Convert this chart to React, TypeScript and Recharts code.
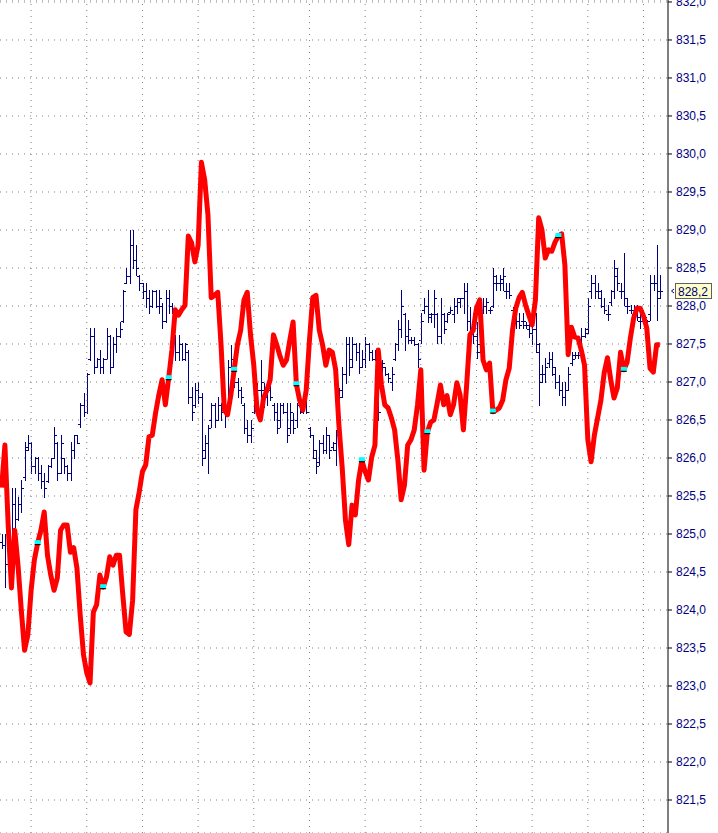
import React from "react";
import { ComposedChart, Bar, Line, XAxis, YAxis, CartesianGrid, ReferenceLine } from "recharts";

// OHLC bars (navy), one per period
const opens = [
  824.9, 824.85, 824.6, 824.8, 825.4, 825.2, 825.4, 825.75, 826.15, 826.2,
  825.9, 826.0, 825.8, 825.7, 825.7, 825.9, 826.0, 826.2, 825.8, 826.0,
  825.9, 825.8, 826.1, 826.3, 826.45, 826.7, 826.6, 827.3, 827.6, 827.2,
  827.3, 827.2, 827.3, 827.6, 827.2, 827.5, 827.6, 827.8, 828.3, 828.4,
  828.8, 828.6, 828.4, 828.3, 828.2, 828.1, 828.0, 828.2, 828.0, 828.0,
  827.8, 828.1, 828.0, 827.6, 827.4, 827.5, 827.3, 827.4, 826.8, 826.7,
  826.9, 826.8, 826.1, 826.2, 826.5, 826.7, 826.5, 826.7, 826.6, 826.7,
  827.2, 827.2, 827.0, 826.9, 826.7, 826.4, 826.3, 826.6, 826.8, 826.9,
  826.9, 826.8, 826.9, 826.7, 826.6, 826.5, 826.7, 826.6, 826.4, 826.5,
  826.5, 826.7, 826.6, 826.7, 826.4, 826.3, 826.0, 825.95, 826.2, 826.1,
  826.3, 826.15, 826.1, 826.6, 826.9, 827.1, 827.5, 827.3, 827.5, 827.4,
  827.2, 827.3, 827.5, 827.4, 827.3, 827.3, 827.2, 827.2, 827.1, 827.0,
  827.3, 827.5, 827.7, 827.9, 827.6, 827.55, 827.55, 827.5, 827.55, 827.95,
  828.0, 827.85, 827.9, 827.9, 827.6, 827.9, 827.8, 827.92, 827.9, 828.0,
  828.05, 828.1, 828.2, 827.8, 827.7, 827.6, 827.5, 827.95, 828.0, 827.95,
  828.0, 828.3, 828.3, 828.3, 828.2, 828.2, 827.95, 827.9, 827.8, 827.8,
  827.75, 827.7, 827.65, 827.7, 827.4, 827.1, 827.1, 827.25, 827.3, 827.1,
  827.0, 826.9, 826.8, 826.9, 827.25, 827.35, 827.35, 827.55, 827.6, 827.7,
  828.2, 828.3, 828.2, 828.1, 828.0, 827.9, 828.05, 828.2, 828.4, 828.2,
  828.2, 828.0, 827.95, 827.9, 827.9, 827.8, 827.8, 827.75, 827.9, 828.3,
  828.3, 828.2,
];
const highs = [
  825.0, 825.0, 824.9, 825.61, 825.61, 825.49, 825.71, 826.21, 826.3, 826.21,
  826.01, 826.01, 825.91, 825.8, 825.91, 826.0, 826.41, 826.21, 826.3, 826.0,
  825.91, 826.21, 826.3, 826.3, 826.72, 826.85, 827.12, 827.71, 827.71, 827.32,
  827.42, 827.32, 827.71, 827.62, 827.59, 827.71, 827.79, 828.21, 828.5, 829.0,
  829.0, 828.8, 828.41, 828.3, 828.3, 828.21, 828.21, 828.21, 828.21, 828.04,
  828.21, 828.21, 828.04, 827.62, 827.62, 827.51, 827.51, 827.42, 826.93, 826.99,
  827.0, 826.86, 826.3, 826.43, 826.72, 826.72, 826.8, 826.72, 826.72, 827.29,
  827.49, 827.29, 827.05, 826.93, 826.72, 826.5, 826.5, 826.89, 826.99, 827.29,
  826.99, 826.99, 826.99, 826.72, 826.72, 826.72, 826.72, 826.72, 826.72, 826.59,
  826.72, 826.72, 826.72, 826.76, 826.41, 826.3, 826.11, 826.24, 826.3, 826.41,
  826.3, 826.21, 826.37, 826.92, 827.2, 827.59, 827.59, 827.59, 827.51, 827.51,
  827.42, 827.59, 827.51, 827.42, 827.42, 827.3, 827.29, 827.2, 827.12, 827.2,
  827.51, 827.82, 828.21, 827.91, 827.82, 827.59, 827.59, 827.51, 827.91, 828.11,
  828.21, 827.91, 828.21, 827.91, 828.11, 827.91, 827.91, 827.99, 828.11, 828.11,
  828.11, 828.3, 828.3, 827.99, 827.91, 827.79, 827.79, 828.11, 828.11, 827.99,
  828.5, 828.41, 828.41, 828.5, 828.3, 828.3, 827.99, 827.91, 827.91, 827.91,
  827.79, 827.79, 827.8, 827.91, 827.51, 827.22, 827.32, 827.39, 827.39, 827.2,
  827.09, 827.0, 827.0, 827.2, 827.39, 827.39, 827.39, 827.71, 827.71, 828.11,
  828.41, 828.41, 828.3, 828.21, 828.11, 828.01, 828.21, 828.61, 828.5, 828.3,
  828.7, 828.11, 828.01, 828.01, 828.01, 827.91, 827.91, 827.82, 828.41, 828.41,
  828.8, 828.41,
];
const lows = [
  824.82, 824.3, 824.55, 824.59, 825.09, 825.18, 825.29, 825.71, 826.11, 825.8,
  825.8, 825.71, 825.61, 825.49, 825.68, 825.88, 826.0, 825.71, 825.8, 825.8,
  825.71, 825.71, 826.0, 826.2, 826.41, 826.55, 826.59, 827.29, 827.12, 827.2,
  827.12, 827.12, 827.32, 827.12, 827.2, 827.39, 827.59, 827.79, 828.3, 828.3,
  828.5, 828.41, 828.21, 828.11, 827.99, 827.91, 827.99, 827.99, 827.91, 827.71,
  827.79, 827.91, 827.91, 827.29, 827.29, 827.29, 827.29, 826.72, 826.5, 826.67,
  826.72, 825.91, 826.0, 825.8, 826.41, 826.41, 826.5, 826.5, 826.41, 826.67,
  827.2, 826.93, 826.8, 826.72, 826.33, 826.21, 826.21, 826.59, 826.76, 826.8,
  826.67, 826.7, 826.76, 826.5, 826.33, 826.41, 826.59, 826.21, 826.33, 826.33,
  826.41, 826.59, 826.59, 826.59, 826.28, 826.0, 825.8, 825.91, 826.07, 826.07,
  826.0, 826.11, 825.91, 826.53, 826.8, 826.99, 827.09, 827.2, 827.29, 827.12,
  827.2, 827.2, 827.29, 827.29, 827.29, 826.5, 827.12, 827.09, 827.0, 826.89,
  827.29, 827.42, 827.59, 827.42, 827.51, 827.51, 827.49, 827.2, 827.51, 827.91,
  827.79, 827.79, 827.72, 827.51, 827.51, 827.64, 827.79, 827.91, 827.79, 827.91,
  827.99, 827.91, 827.68, 827.59, 827.51, 827.32, 827.39, 827.91, 827.91, 827.91,
  827.99, 828.21, 828.21, 828.21, 828.11, 828.11, 827.91, 827.71, 827.71, 827.71,
  827.71, 827.59, 827.5, 827.39, 826.7, 827.0, 827.0, 827.2, 827.09, 826.92,
  826.83, 826.7, 826.7, 826.89, 827.22, 827.32, 827.32, 827.51, 827.59, 827.64,
  828.11, 828.11, 828.11, 827.99, 827.91, 827.82, 828.01, 828.11, 828.21, 828.11,
  828.01, 827.91, 827.91, 827.82, 827.82, 827.71, 827.78, 827.71, 827.82, 828.21,
  827.82, 828.11,
];
const closes = [
  824.85, 824.6, 824.8, 825.4, 825.2, 825.4, 825.6, 826.1, 826.2, 825.9,
  826.0, 825.8, 825.7, 825.6, 825.9, 826.0, 826.3, 825.8, 826.2, 825.9,
  825.8, 826.1, 826.3, 826.2, 826.7, 826.6, 827.1, 827.6, 827.2, 827.3,
  827.2, 827.3, 827.6, 827.2, 827.5, 827.6, 827.7, 828.2, 828.4, 828.8,
  828.6, 828.5, 828.3, 828.2, 828.1, 828.0, 828.2, 828.0, 828.1, 827.8,
  828.1, 828.0, 827.95, 827.4, 827.5, 827.3, 827.5, 826.8, 826.6, 826.9,
  826.8, 826.0, 826.2, 826.4, 826.7, 826.5, 826.7, 826.6, 826.6, 827.2,
  827.3, 827.0, 826.9, 826.8, 826.4, 826.3, 826.4, 826.8, 826.9, 827.0,
  826.8, 826.9, 826.8, 826.6, 826.4, 826.7, 826.6, 826.3, 826.6, 826.4,
  826.7, 826.6, 826.7, 826.6, 826.3, 826.1, 825.9, 826.2, 826.1, 826.3,
  826.1, 826.2, 826.3, 826.8, 827.1, 827.5, 827.2, 827.5, 827.4, 827.2,
  827.3, 827.5, 827.4, 827.3, 827.4, 826.6, 827.25, 827.1, 827.05, 827.1,
  827.5, 827.7, 828.0, 827.6, 827.7, 827.55, 827.5, 827.3, 827.8, 828.0,
  827.9, 827.9, 828.1, 827.6, 827.9, 827.7, 827.9, 827.95, 828.0, 828.1,
  828.1, 828.2, 827.8, 827.7, 827.6, 827.4, 827.7, 828.0, 828.05, 827.95,
  828.4, 828.3, 828.35, 828.4, 828.2, 828.15, 827.95, 827.8, 827.75, 827.8,
  827.75, 827.65, 827.7, 827.5, 827.0, 827.1, 827.2, 827.3, 827.2, 827.0,
  826.9, 826.8, 826.9, 827.1, 827.3, 827.35, 827.35, 827.6, 827.65, 828.0,
  828.3, 828.2, 828.2, 828.0, 827.95, 827.9, 828.2, 828.5, 828.3, 828.2,
  828.1, 828.0, 827.95, 827.9, 827.85, 827.8, 827.85, 827.8, 828.3, 828.3,
  828.1, 828.2,
];

// red comparison line, same periods
const redLine = [
  825.61, 826.17, 825.12, 824.29, 825.05, 824.59, 824.0, 823.47, 823.67, 824.26,
  824.66, 824.88, 825.05, 825.29, 824.72, 824.46, 824.26, 824.42, 825.05, 825.12,
  825.12, 824.76, 824.82, 824.55, 823.93, 823.41, 823.17, 823.04, 823.97, 824.07,
  824.46, 824.3, 824.43, 824.7, 824.59, 824.72, 824.72, 824.2, 823.71, 823.68,
  824.13, 825.32, 825.55, 825.82, 825.91, 826.28, 826.3, 826.59, 826.83, 827.03,
  826.7, 827.05, 827.42, 827.95, 827.88, 827.95, 828.01, 828.92, 828.83, 828.58,
  828.8, 829.89, 829.66, 829.2, 828.11, 828.14, 828.18, 827.49, 826.63, 826.57,
  826.83, 827.16, 827.49, 827.68, 828.08, 828.18, 827.62, 827.22, 826.63, 826.5,
  826.79, 826.89, 827.03, 827.62, 827.49, 827.34, 827.22, 827.29, 827.55, 827.79,
  826.97, 826.76, 826.63, 826.89, 827.55, 828.11, 828.14, 827.68, 827.49, 827.22,
  827.42, 827.39, 827.16, 826.43, 825.87, 825.18, 824.86, 825.38, 825.25, 825.71,
  825.97, 825.82, 825.71, 826.01, 826.17, 827.42, 826.96, 826.7, 826.66, 826.53,
  826.37, 825.97, 825.45, 825.64, 826.17, 826.24, 826.37, 826.7, 827.16, 825.84,
  826.34, 826.47, 826.5, 826.72, 826.96, 826.7, 826.82, 826.57, 826.7, 826.99,
  826.83, 826.37, 826.96, 827.62, 827.68, 827.97, 828.08, 827.29, 827.16, 827.25,
  826.61, 826.63, 826.66, 826.76, 827.03, 827.18, 827.68, 827.97, 828.11, 828.18,
  828.01, 827.88, 827.75, 828.08, 829.16, 829.0, 828.63, 828.74, 828.72, 828.84,
  828.92, 828.95, 828.54, 827.36, 827.72, 827.59, 827.58, 827.42, 827.22, 826.24,
  825.95, 826.3, 826.53, 826.76, 827.12, 827.32, 827.03, 826.79, 826.92, 827.39,
  827.16, 827.26, 827.58, 827.84, 827.97, 827.97, 827.87, 827.71, 827.18, 827.13,
  827.49, 827.49,
];

// periods that carry the small cyan marker on the red line
const markerIdx = [11, 31, 51, 71, 90, 110, 130, 150, 170, 190];
// periods where the vertical dotted grid lines fall
const gridIdx = [9, 26, 43, 60, 77, 94, 111, 128, 145, 162, 179, 196];
const yTicks = [
  821.5, 822, 822.5, 823, 823.5, 824, 824.5, 825, 825.5, 826, 826.5,
  827, 827.5, 828, 828.5, 829, 829.5, 830, 830.5, 831, 831.5, 832,
];

const W = 718;
const H = 833;
const AXIS_W = 50;
const NAVY = "#000080";
const GRID = "#808080";
const markerSet = new Set(markerIdx);

const data = highs.map((h, i) => ({
  i,
  open: opens[i],
  high: h,
  low: lows[i],
  close: closes[i],
  range: [lows[i], h],
  red: redLine[i],
}));

const fmt = (v: number) => v.toFixed(1).replace(".", ",");

function OhlcShape(props: any) {
  const { x, y, width, height, payload } = props;
  if (x == null || y == null || !payload) return <g />;
  const top = Math.min(y, y + height);
  const bot = Math.max(y, y + height);
  const cx = Math.round(x + width / 2) + 0.5;
  const span = payload.high - payload.low;
  const at = (v: number) => Math.round(span > 0 ? top + ((payload.high - v) / span) * (bot - top) : top) + 0.5;
  const yo = at(payload.open);
  const yc = at(payload.close);
  return (
    <g stroke={NAVY} strokeWidth={1}>
      <line x1={cx} x2={cx} y1={Math.round(top)} y2={Math.round(bot) + 1} />
      <line x1={cx - 2.5} x2={cx} y1={yo} y2={yo} />
      <line x1={cx} x2={cx + 2.5} y1={yc} y2={yc} />
    </g>
  );
}

function MarkerDot(props: any) {
  const { cx, cy, index } = props;
  if (!markerSet.has(index) || cx == null) return <g key={`m${index}`} />;
  return (
    <g key={`m${index}`}>
      <rect x={cx - 3} y={cy - 3} width={6} height={4} fill="#00FFFF" />
      <rect x={cx - 3} y={cy + 1} width={6} height={1} fill="#000" />
    </g>
  );
}

function LastLabel(props: any) {
  const vb = props.viewBox;
  if (!vb) return null;
  const ax = W - AXIS_W;
  const y = Math.round(vb.y);
  return (
    <g>
      <polyline
        points={`${ax + 6},${y - 2} ${ax + 3.5},${y} ${ax + 6},${y + 2}`}
        fill="none"
        stroke={NAVY}
        strokeWidth={1}
      />
      <rect x={ax + 7.5} y={y - 7.5} width={36} height={15} fill="#FFFFC6" stroke="#606060" />
      <text x={ax + 10} y={y + 4.5} fill={NAVY} fontSize={12}>
        {fmt(closes[closes.length - 1])}
      </text>
    </g>
  );
}

export default function App() {
  return (
    <div
      style={{
        position: "absolute",
        left: 0,
        top: 0,
        width: W,
        height: H,
        background: "#fff",
        fontFamily: "'Liberation Sans', Arial, sans-serif",
      }}
    >
      <ComposedChart width={W} height={H} data={data} margin={{ top: 0, right: 0, bottom: 0, left: 0 }}>
        <CartesianGrid stroke={GRID} strokeDasharray="1 5" vertical={false} />
        <XAxis
          dataKey="i"
          type="category"
          height={0}
          tick={false}
          tickLine={false}
          axisLine={false}
          padding={{ left: 0, right: 6.5 }}
        />
        <YAxis
          orientation="right"
          width={AXIS_W}
          domain={[821.066, 832.026]}
          allowDataOverflow
          ticks={yTicks}
          interval={0}
          tickFormatter={fmt}
          tickSize={4}
          tickMargin={4}
          tick={{ fill: NAVY, fontSize: 12 }}
          tickLine={{ stroke: "#000" }}
          axisLine={{ stroke: "#000" }}
        />
        {gridIdx.map((gi) => (
          <ReferenceLine key={`g${gi}`} x={gi} stroke={GRID} strokeDasharray="1 5" />
        ))}
        <Bar dataKey="range" shape={OhlcShape} isAnimationActive={false} />
        <Line
          dataKey="red"
          type="linear"
          stroke="#FF0000"
          strokeWidth={5}
          strokeLinejoin="round"
          dot={(p: any) => <MarkerDot {...p} key={`m${p.index}`} />}
          activeDot={false}
          isAnimationActive={false}
        />
        <ReferenceLine y={closes[closes.length - 1]} stroke="none" label={<LastLabel />} />
      </ComposedChart>
    </div>
  );
}
